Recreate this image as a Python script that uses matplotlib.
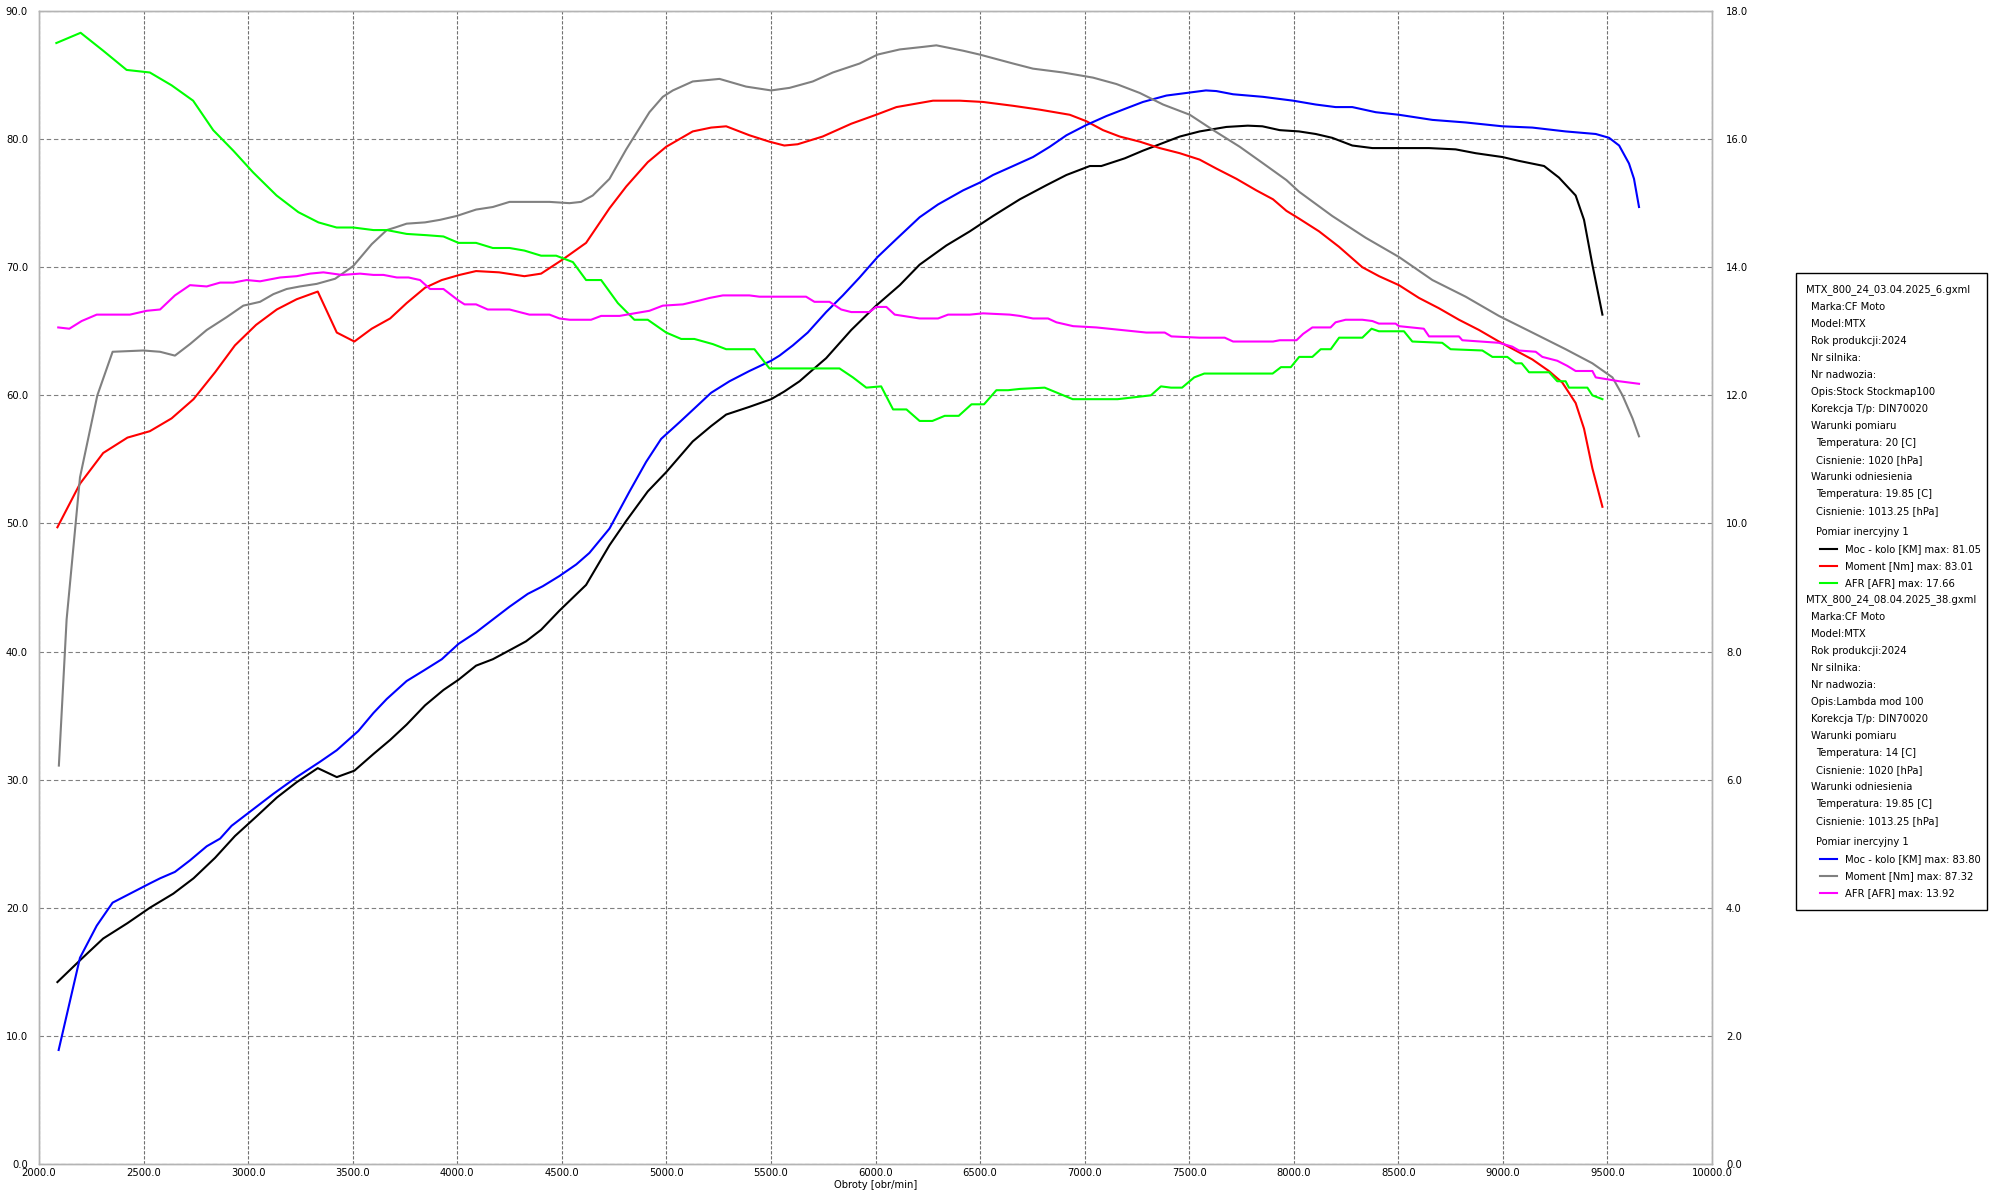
import matplotlib
matplotlib.use("Agg")
import matplotlib.pyplot as plt
from matplotlib.patches import Rectangle
from matplotlib.lines import Line2D

# ---------------- data ----------------
# Run 1: MTX_800_24_03.04.2025_6.gxml
moc1_rpm = [2088, 2196, 2307, 2423, 2530, 2642, 2739, 2842, 2937, 3038, 3137, 3232, 3333, 3424, 3508,
            3599, 3679, 3758, 3846, 3934, 4006, 4090, 4170, 4250, 4329, 4401, 4489, 4616, 4728, 4808,
            4911, 4999, 5126, 5214, 5286, 5397, 5501, 5564, 5637, 5700, 5764, 5884, 6003, 6116, 6211,
            6339, 6451, 6562, 6690, 6817, 6913, 7025, 7080, 7192, 7279, 7359, 7455, 7550, 7678, 7780,
            7850, 7933, 8025, 8105, 8184, 8280, 8376, 8503, 8647, 8774, 8870, 8998, 9077, 9197, 9268,
            9348, 9388, 9428, 9476]
moc1_val = [14.2, 15.9, 17.6, 18.8, 20.0, 21.1, 22.3, 23.9, 25.6, 27.1, 28.6, 29.8, 30.9, 30.2, 30.7,
            32.0, 33.1, 34.3, 35.8, 37.0, 37.8, 38.9, 39.4, 40.1, 40.8, 41.7, 43.2, 45.2, 48.3, 50.2,
            52.5, 54.0, 56.4, 57.6, 58.5, 59.1, 59.7, 60.3, 61.1, 62.0, 62.9, 65.1, 67.0, 68.6, 70.2,
            71.7, 72.8, 74.0, 75.3, 76.4, 77.2, 77.9, 77.9, 78.5, 79.1, 79.6, 80.2, 80.6, 80.95, 81.05,
            81.0, 80.7, 80.6, 80.4, 80.1, 79.5, 79.3, 79.3, 79.3, 79.2, 78.9, 78.6, 78.3, 77.9, 77.0,
            75.6, 73.7, 70.2, 66.3]

moment1_rpm = [2088, 2196, 2307, 2423, 2530, 2634, 2739, 2842, 2937, 3038, 3137, 3232, 3333, 3424, 3508,
               3591, 3679, 3758, 3846, 3926, 4011, 4090, 4200, 4321, 4401, 4504, 4616, 4728, 4808, 4911,
               4999, 5126, 5214, 5286, 5397, 5493, 5564, 5628, 5747, 5884, 6003, 6100, 6275, 6403, 6514,
               6658, 6785, 6929, 7008, 7088, 7168, 7264, 7359, 7455, 7550, 7630, 7726, 7821, 7901, 7965,
               8025, 8121, 8216, 8328, 8408, 8503, 8599, 8694, 8790, 8886, 8981, 9061, 9141, 9220, 9284,
               9348, 9388, 9428, 9476]
moment1_val = [49.7, 53.1, 55.5, 56.7, 57.2, 58.2, 59.7, 61.8, 63.9, 65.5, 66.7, 67.5, 68.1, 64.9, 64.2,
               65.2, 66.0, 67.2, 68.4, 69.0, 69.4, 69.7, 69.6, 69.3, 69.5, 70.6, 71.9, 74.6, 76.3, 78.2,
               79.4, 80.6, 80.9, 81.0, 80.3, 79.8, 79.5, 79.6, 80.2, 81.2, 81.9, 82.5, 83.0, 83.0, 82.9,
               82.6, 82.3, 81.9, 81.4, 80.7, 80.2, 79.8, 79.3, 78.9, 78.4, 77.7, 76.9, 76.0, 75.3, 74.4,
               73.8, 72.8, 71.6, 70.0, 69.3, 68.6, 67.6, 66.8, 65.9, 65.1, 64.2, 63.5, 62.8, 61.9, 61.0,
               59.4, 57.4, 54.3, 51.3]

afr1_rpm = [2083, 2199, 2307, 2419, 2530, 2634, 2737, 2833, 2929, 3024, 3136, 3240, 3336, 3423, 3503,
            3599, 3663, 3758, 3854, 3934, 4006, 4090, 4170, 4250, 4321, 4401, 4473, 4553, 4616, 4688,
            4768, 4847, 4911, 4999, 5071, 5134, 5222, 5286, 5421, 5493, 5605, 5828, 5892, 5956, 6027,
            6084, 6148, 6211, 6272, 6331, 6398, 6459, 6519, 6578, 6634, 6690, 6809, 6943, 7158, 7317,
            7365, 7413, 7466, 7524, 7572, 7652, 7731, 7899, 7939, 7986, 8026, 8089, 8129, 8177, 8217,
            8328, 8372, 8407, 8527, 8567, 8710, 8750, 8902, 8950, 9021, 9061, 9090, 9125, 9221, 9260,
            9300, 9316, 9404, 9428, 9476]
afr1_val = [17.50, 17.66, 17.38, 17.08, 17.04, 16.84, 16.60, 16.14, 15.82, 15.48, 15.12, 14.86, 14.70, 14.62, 14.62,
            14.58, 14.58, 14.52, 14.50, 14.48, 14.38, 14.38, 14.30, 14.30, 14.26, 14.18, 14.18, 14.08, 13.80, 13.80,
            13.44, 13.18, 13.18, 12.98, 12.88, 12.88, 12.80, 12.72, 12.72, 12.42, 12.42, 12.42, 12.28, 12.12, 12.14,
            11.78, 11.78, 11.60, 11.60, 11.68, 11.68, 11.86, 11.86, 12.08, 12.08, 12.10, 12.12, 11.94, 11.94, 12.00,
            12.14, 12.12, 12.12, 12.28, 12.34, 12.34, 12.34, 12.34, 12.44, 12.44, 12.60, 12.60, 12.72, 12.72, 12.90,
            12.90, 13.04, 13.00, 13.00, 12.84, 12.82, 12.72, 12.70, 12.60, 12.60, 12.50, 12.50, 12.36, 12.36, 12.22,
            12.22, 12.12, 12.12, 12.00, 11.94]

# Run 2: MTX_800_24_08.04.2025_38.gxml
moc2_rpm = [2094, 2196, 2276, 2352, 2435, 2530, 2579, 2650, 2722, 2802, 2866, 2921, 3041, 3121, 3232,
            3344, 3424, 3527, 3599, 3663, 3758, 3838, 3926, 4006, 4090, 4170, 4250, 4337, 4409, 4489,
            4569, 4632, 4728, 4824, 4903, 4975, 5063, 5142, 5214, 5302, 5397, 5501, 5541, 5605, 5676,
            5764, 5844, 5924, 6010, 6100, 6211, 6299, 6419, 6498, 6562, 6658, 6753, 6833, 6913, 7008,
            7104, 7199, 7279, 7391, 7486, 7580, 7630, 7710, 7853, 7997, 8105, 8200, 8280, 8392, 8503,
            8663, 8822, 8998, 9141, 9300, 9444, 9508, 9556, 9603, 9627, 9651]
moc2_val = [8.9, 16.1, 18.6, 20.4, 21.1, 21.9, 22.3, 22.8, 23.7, 24.8, 25.4, 26.4, 27.9, 28.9, 30.2,
            31.4, 32.3, 33.8, 35.2, 36.3, 37.7, 38.5, 39.4, 40.6, 41.5, 42.5, 43.5, 44.5, 45.1, 45.9,
            46.8, 47.7, 49.6, 52.5, 54.8, 56.6, 57.9, 59.1, 60.2, 61.1, 61.9, 62.7, 63.1, 63.9, 64.9,
            66.5, 67.8, 69.2, 70.8, 72.2, 73.9, 74.9, 76.0, 76.6, 77.2, 77.9, 78.6, 79.4, 80.3, 81.1,
            81.8, 82.4, 82.9, 83.4, 83.6, 83.8, 83.75, 83.5, 83.3, 83.0, 82.7, 82.5, 82.5, 82.1, 81.9,
            81.5, 81.3, 81.0, 80.9, 80.6, 80.4, 80.1, 79.5, 78.1, 76.9, 74.7]

moment2_rpm = [2095, 2132, 2196, 2279, 2352, 2499, 2579, 2650, 2722, 2802, 2897, 2977, 3057, 3121, 3184,
               3248, 3328, 3416, 3503, 3591, 3663, 3703, 3758, 3846, 3918, 3997, 4090, 4170, 4250, 4329,
               4441, 4537, 4592, 4648, 4728, 4808, 4919, 4983, 5031, 5126, 5254, 5381, 5501, 5589, 5700,
               5796, 5924, 6010, 6116, 6228, 6291, 6419, 6498, 6658, 6753, 6897, 7040, 7152, 7264, 7375,
               7503, 7615, 7742, 7854, 7965, 8025, 8184, 8344, 8503, 8663, 8822, 8981, 9141, 9300, 9428,
               9524, 9572, 9620, 9651]
moment2_val = [31.1, 42.5, 53.6, 60.0, 63.4, 63.5, 63.4, 63.1, 64.0, 65.1, 66.1, 67.0, 67.3, 67.9, 68.3,
               68.5, 68.7, 69.1, 70.1, 71.8, 72.9, 73.1, 73.4, 73.5, 73.7, 74.0, 74.5, 74.7, 75.1, 75.1,
               75.1, 75.0, 75.1, 75.6, 76.9, 79.2, 82.1, 83.3, 83.8, 84.5, 84.7, 84.1, 83.8, 84.0, 84.5,
               85.2, 85.9, 86.6, 87.0, 87.2, 87.32, 86.9, 86.6, 85.9, 85.5, 85.2, 84.8, 84.3, 83.6, 82.7,
               81.9, 80.7, 79.4, 78.1, 76.8, 75.9, 74.0, 72.3, 70.8, 69.0, 67.7, 66.2, 64.9, 63.6, 62.5,
               61.4, 60.0, 58.2, 56.8]

afr2_rpm = [2092, 2145, 2204, 2276, 2435, 2515, 2579, 2650, 2722, 2802, 2866, 2929, 2993, 3057, 3153,
            3232, 3296, 3360, 3448, 3535, 3599, 3647, 3711, 3767, 3822, 3870, 3934, 4006, 4035, 4090,
            4146, 4250, 4345, 4441, 4489, 4537, 4640, 4688, 4776, 4847, 4919, 4983, 5079, 5158, 5206,
            5270, 5397, 5445, 5668, 5708, 5780, 5836, 5884, 5971, 6003, 6052, 6092, 6211, 6299, 6347,
            6451, 6514, 6642, 6690, 6753, 6825, 6865, 6945, 7056, 7176, 7295, 7383, 7415, 7550, 7670,
            7710, 7901, 7933, 8013, 8045, 8089, 8176, 8200, 8248, 8328, 8376, 8407, 8487, 8503, 8622,
            8647, 8790, 8806, 8981, 9045, 9077, 9157, 9189, 9260, 9308, 9348, 9428, 9444, 9556, 9651]
afr2_val = [13.06, 13.04, 13.16, 13.26, 13.26, 13.32, 13.34, 13.56, 13.72, 13.70, 13.76, 13.76, 13.80, 13.78, 13.84,
            13.86, 13.90, 13.92, 13.88, 13.90, 13.88, 13.88, 13.84, 13.84, 13.80, 13.66, 13.66, 13.48, 13.42, 13.42,
            13.34, 13.34, 13.26, 13.26, 13.20, 13.18, 13.18, 13.24, 13.24, 13.28, 13.32, 13.40, 13.42, 13.48, 13.52,
            13.56, 13.56, 13.54, 13.54, 13.46, 13.46, 13.34, 13.30, 13.30, 13.38, 13.38, 13.26, 13.20, 13.20, 13.26,
            13.26, 13.28, 13.26, 13.24, 13.20, 13.20, 13.14, 13.08, 13.06, 13.02, 12.98, 12.98, 12.92, 12.90, 12.90,
            12.84, 12.84, 12.86, 12.86, 12.96, 13.06, 13.06, 13.14, 13.18, 13.18, 13.16, 13.12, 13.12, 13.08, 13.04,
            12.92, 12.92, 12.86, 12.82, 12.76, 12.70, 12.68, 12.60, 12.54, 12.46, 12.38, 12.38, 12.28, 12.22, 12.18]

x_ticks = [2000, 2500, 3000, 3500, 4000, 4500, 5000, 5500, 6000, 6500, 7000, 7500, 8000, 8500, 9000, 9500, 10000]
left_ticks = [0, 10, 20, 30, 40, 50, 60, 70, 80, 90]
right_ticks = [0, 2, 4, 6, 8, 10, 12, 14, 16, 18]
x_label = "Obroty [obr/min]"

legend_blocks = [
    {
        "file": "MTX_800_24_03.04.2025_6.gxml",
        "info": ["Marka:CF Moto", "Model:MTX", "Rok produkcji:2024", "Nr silnika:", "Nr nadwozia:",
                 "Opis:Stock Stockmap100", "Korekcja T/p: DIN70020", "Warunki pomiaru"],
        "cond1": ["Temperatura: 20 [C]", "Cisnienie: 1020 [hPa]"],
        "ref": "Warunki odniesienia",
        "cond2": ["Temperatura: 19.85 [C]", "Cisnienie: 1013.25 [hPa]"],
        "series": [("Moc - kolo [KM] max: 81.05", "#000000"),
                   ("Moment [Nm] max: 83.01", "#ff0000"),
                   ("AFR [AFR] max: 17.66", "#00ff00")],
    },
    {
        "file": "MTX_800_24_08.04.2025_38.gxml",
        "info": ["Marka:CF Moto", "Model:MTX", "Rok produkcji:2024", "Nr silnika:", "Nr nadwozia:",
                 "Opis:Lambda mod 100", "Korekcja T/p: DIN70020", "Warunki pomiaru"],
        "cond1": ["Temperatura: 14 [C]", "Cisnienie: 1020 [hPa]"],
        "ref": "Warunki odniesienia",
        "cond2": ["Temperatura: 19.85 [C]", "Cisnienie: 1013.25 [hPa]"],
        "series": [("Moc - kolo [KM] max: 83.80", "#0000ff"),
                   ("Moment [Nm] max: 87.32", "#808080"),
                   ("AFR [AFR] max: 13.92", "#ff00ff")],
    },
]

# ---------------- figure ----------------
W, H = 1993, 1202
plt.rcParams['font.family'] = ['DejaVu Sans']
fig = plt.figure(figsize=(W / 100, H / 100), dpi=100)
fig.patch.set_facecolor('white')

ax_left, ax_right, ax_top, ax_bot = 39, 1712, 11, 1164
ax = fig.add_axes([ax_left / W, 1 - ax_bot / H, (ax_right - ax_left) / W, (ax_bot - ax_top) / H])
ax2 = ax.twinx()

lw = 1.5
ax.plot(moc1_rpm, moc1_val, color='#000000', lw=lw, zorder=3)
ax.plot(moment1_rpm, moment1_val, color='#ff0000', lw=lw, zorder=3)
ax.plot(moc2_rpm, moc2_val, color='#0000ff', lw=lw, zorder=3)
ax.plot(moment2_rpm, moment2_val, color='#808080', lw=lw, zorder=3)
ax2.plot(afr1_rpm, afr1_val, color='#00ff00', lw=lw)
ax2.plot(afr2_rpm, afr2_val, color='#ff00ff', lw=lw)

ax.set_xlim(2000, 10000)
ax.set_ylim(0, 90)
ax2.set_ylim(0, 18)

ax.set_xticks(x_ticks)
ax.set_xticklabels([f"{v:.1f}" for v in x_ticks])
ax.set_yticks(left_ticks)
ax.set_yticklabels([f"{v:.1f}" for v in left_ticks])
ax2.set_yticks(right_ticks)
ax2.set_yticklabels([f"{v:.1f}" for v in right_ticks])

ax.tick_params(axis='both', length=0, labelsize=7.2, colors='black')
ax.tick_params(axis='y', pad=8)
ax.tick_params(axis='x', pad=3)
ax2.tick_params(axis='y', length=0, labelsize=7.2, pad=10, colors='black')

ax.grid(True, axis='y', color='#808080', linestyle=(0, (4, 2.5)), lw=0.8)
ax.grid(True, axis='x', color='#707070', linestyle=(0, (3, 1.5)), lw=0.8)
ax.set_axisbelow(True)

for a in (ax, ax2):
    for s in a.spines.values():
        s.set_color('#b4b4b4')
        s.set_linewidth(1.0)

ax.set_xlabel(x_label, fontsize=7.2, labelpad=1)

# ---------------- legend box ----------------
def fx(x):
    return x / W

def fy(y):
    return 1 - y / H

fig.add_artist(Rectangle((fx(1796), fy(910)), (1987 - 1796) / W, (910 - 273) / H,
                         transform=fig.transFigure, fill=False, ec='black', lw=1.0))

fs = 7.2
y = 290
step = 17
for blk in legend_blocks:
    fig.text(fx(1806), fy(y), blk["file"], fontsize=fs, va='center', ha='left')
    y += step
    for t in blk["info"]:
        fig.text(fx(1811), fy(y), t, fontsize=fs, va='center', ha='left')
        y += step
    for t in blk["cond1"]:
        fig.text(fx(1816), fy(y), t, fontsize=fs, va='center', ha='left')
        y += step
    fig.text(fx(1811), fy(y), blk["ref"], fontsize=fs, va='center', ha='left')
    y += step
    for t in blk["cond2"]:
        fig.text(fx(1816), fy(y), t, fontsize=fs, va='center', ha='left')
        y += step
    y += 4
    fig.text(fx(1816), fy(y), "Pomiar inercyjny 1", fontsize=fs, va='center', ha='left')
    y += step
    for label, col in blk["series"]:
        fig.add_artist(Line2D([fx(1820), fx(1837)], [fy(y), fy(y)], color=col, lw=1.5,
                              transform=fig.transFigure))
        fig.text(fx(1845), fy(y), label, fontsize=fs, va='center', ha='left')
        y += step

fig.savefig("out.png", dpi=100, facecolor='white')
